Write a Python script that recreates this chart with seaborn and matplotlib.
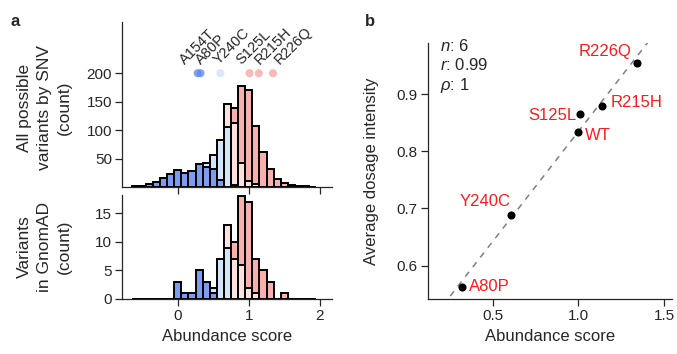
import numpy as np
import pandas as pd
import matplotlib
matplotlib.use("Agg")
import matplotlib.pyplot as plt
import seaborn as sns

# histogram bins (abundance score, bin centres) and classes
bin_centers = [-0.6, -0.5, -0.4, -0.3, -0.2, -0.1, 0.0, 0.1, 0.2, 0.3, 0.4, 0.5, 0.6,
               0.7, 0.8, 0.9, 1.0, 1.1, 1.2, 1.3, 1.4, 1.5, 1.6, 1.7, 1.8, 1.9]
classes = ["low", "possibly low", "possibly WT-like", "WT-like"]

# all possible variants by SNV (count per bin, per class)
snv_low = [1, 2, 6, 9, 15, 23, 30, 25, 28, 40, 35, 32, 12, 0, 0, 0, 0, 0, 0, 0, 0, 0, 0, 0, 0, 0]
snv_plow = [0, 0, 0, 0, 0, 0, 0, 0, 0, 0, 8, 25, 71, 106, 3, 0, 0, 0, 0, 0, 0, 0, 0, 0, 0, 0]
snv_pwt = [0, 0, 0, 0, 0, 0, 0, 0, 0, 0, 0, 0, 0, 40, 110, 43, 10, 5, 0, 0, 0, 0, 0, 0, 0, 0]
snv_wt = [0, 0, 0, 0, 0, 0, 0, 0, 0, 0, 0, 0, 0, 0, 25, 135, 160, 103, 62, 32, 14, 7, 4, 2, 1, 0]

# variants in GnomAD
gnomad_low = [0, 0, 0, 0, 0, 0, 3, 1, 1, 5, 3, 1, 0, 0, 0, 0, 0, 0, 0, 0, 0, 0, 0, 0, 0, 0]
gnomad_plow = [0, 0, 0, 0, 0, 0, 0, 0, 0, 0, 0, 1, 7, 9, 0, 0, 0, 0, 0, 0, 0, 0, 0, 0, 0, 0]
gnomad_pwt = [0, 0, 0, 0, 0, 0, 0, 0, 0, 0, 0, 0, 0, 4, 7, 6, 2, 1, 0, 0, 0, 0, 0, 0, 0, 0]
gnomad_wt = [0, 0, 0, 0, 0, 0, 0, 0, 0, 0, 0, 0, 0, 0, 3, 12, 15, 6, 5, 3, 0, 1, 0, 0, 0, 0]

# highlighted variants
variants = ["A154T", "A80P", "Y240C", "S125L", "R215H", "R226Q"]
variant_scores = [0.28, 0.32, 0.60, 1.01, 1.14, 1.34]
variant_class = ["low", "low", "possibly low", "WT-like", "WT-like", "WT-like"]

# panel b
b_labels = ["A80P", "Y240C", "WT", "S125L", "R215H", "R226Q"]
b_abundance = [0.322, 0.605, 1.00, 1.01, 1.138, 1.343]
b_dosage = [0.563, 0.688, 0.834, 0.865, 0.879, 0.955]

palette = {"low": "#7d9bf0", "possibly low": "#d3e5fa",
           "possibly WT-like": "#fde1e1", "WT-like": "#f7b0ad"}
dot_palette = {"low": "#5f86f0", "possibly low": "#cfe1fb",
               "possibly WT-like": "#fbd0d0", "WT-like": "#f5a3a3"}


def long_table(counts):
    rows = []
    for cls, vals in zip(classes, counts):
        for c, v in zip(bin_centers, vals):
            rows.append({"score": c, "count": v, "cls": cls})
    return pd.DataFrame(rows)


snv_df = long_table([snv_low, snv_plow, snv_pwt, snv_wt])
gnomad_df = long_table([gnomad_low, gnomad_plow, gnomad_pwt, gnomad_wt])

sns.set_style("ticks")
plt.rcParams["font.family"] = ["Liberation Sans", "DejaVu Sans"]
plt.rcParams["mathtext.fontset"] = "custom"
plt.rcParams["mathtext.rm"] = "Liberation Sans"
plt.rcParams["mathtext.it"] = "Liberation Sans:italic"
plt.rcParams["axes.linewidth"] = 0.9
plt.rcParams["xtick.major.width"] = 0.9
plt.rcParams["ytick.major.width"] = 0.9
plt.rcParams["xtick.major.size"] = 5
plt.rcParams["ytick.major.size"] = 5
plt.rcParams["xtick.major.pad"] = 2.5
plt.rcParams["ytick.major.pad"] = 2.5

W, H = 677, 354
fig = plt.figure(figsize=(W / 100, H / 100), dpi=100)


def px_axes(x0, y0, x1, y1):
    return fig.add_axes([x0 / W, 1 - y1 / H, (x1 - x0) / W, (y1 - y0) / H])


hue_order = classes[::-1]
hist_kws = dict(x="score", weights="count", hue="cls", hue_order=hue_order,
                multiple="stack", binwidth=0.1, binrange=(-0.65, 1.95),
                palette=palette, alpha=1, edgecolor="black", linewidth=1.4, legend=False)

ax1 = px_axes(122.3, 22, 332, 187)
sns.histplot(data=snv_df, ax=ax1, **hist_kws)
dots = pd.DataFrame({"score": variant_scores, "cls": variant_class, "row": 200})
sns.scatterplot(data=dots, x="score", y="row", hue="cls", palette=dot_palette,
                s=34, alpha=0.75, linewidth=0, legend=False, ax=ax1, clip_on=False)
label_x = [0.10, 0.33, 0.58, 0.90, 1.16, 1.43]
for name, lx in zip(variants, label_x):
    ax1.text(lx, 214, name, rotation=45, rotation_mode="anchor", ha="left",
             va="baseline", fontsize=10.5)
ax1.set_xlim(-0.78, 2.17)
ax1.set_ylim(0, 290)
ax1.set_xticks([0, 1, 2])
ax1.set_xticklabels([])
ax1.set_yticks([50, 100, 150, 200])
ax1.set_xlabel("")
ax1.set_ylabel("All possible\nvariants by SNV\n(count)", fontsize=12.5, linespacing=1.4)
ax1.yaxis.set_label_coords(-0.24, 0.48)
ax1.tick_params(labelsize=11)
sns.despine(ax=ax1)

ax2 = px_axes(122.3, 195, 332, 299)
sns.histplot(data=gnomad_df, ax=ax2, **hist_kws)
ax2.set_xlim(-0.78, 2.17)
ax2.set_ylim(0, 18.2)
ax2.set_xticks([0, 1, 2])
ax2.set_yticks([0, 5, 10, 15])
ax2.set_xlabel("Abundance score", fontsize=12)
ax2.set_ylabel("Variants\nin GnomAD\n(count)", fontsize=12.5, linespacing=1.4)
ax2.yaxis.set_label_coords(-0.24, 0.5)
ax2.tick_params(labelsize=11)
sns.despine(ax=ax2)

ax3 = px_axes(427.7, 42.7, 671.7, 299)
ax3.set_xlim(0.122, 1.543)
ax3.set_ylim(0.5418, 0.9897)
sns.regplot(x=b_abundance, y=b_dosage, scatter=False, ci=None, truncate=False, ax=ax3,
            line_kws={"color": "#808080", "lw": 1.1, "ls": (0, (4, 4))})
sns.scatterplot(x=b_abundance, y=b_dosage, color="black", s=34, linewidth=0, ax=ax3, zorder=3)
offsets = {"A80P": (5, 0, "left"), "Y240C": (0, 10, "right"), "WT": (5, -2.5, "left"),
           "S125L": (-3, -1, "right"), "R215H": (6, 2.5, "left"), "R226Q": (-4, 8, "right")}
for name, xv, yv in zip(b_labels, b_abundance, b_dosage):
    dx, dy, ha = offsets[name]
    ax3.annotate(name, (xv, yv), xytext=(dx, dy), textcoords="offset points",
                 ha=ha, va="center", color="#ff1a1a", fontsize=12)
ax3.text(0.05, 1.02, "$n$: 6\n$r$: 0.99\n$\\rho$: 1", transform=ax3.transAxes,
         ha="left", va="top", fontsize=12, linespacing=1.25)
ax3.set_xlim(0.122, 1.543)
ax3.set_ylim(0.5418, 0.9897)
ax3.set_xticks([0.5, 1.0, 1.5])
ax3.set_yticks([0.6, 0.7, 0.8, 0.9])
ax3.set_xlabel("Abundance score", fontsize=12)
ax3.set_ylabel("Average dosage intensity", fontsize=12)
ax3.yaxis.set_label_coords(-0.2, 0.5)
ax3.tick_params(labelsize=11)
sns.despine(ax=ax3)

fig.text(15 / W, 1 - 22 / H, "a", fontsize=12, fontweight="bold", ha="center", va="center")
fig.text(370 / W, 1 - 22 / H, "b", fontsize=12, fontweight="bold", ha="center", va="center")

fig.savefig("out.png", dpi=100)
